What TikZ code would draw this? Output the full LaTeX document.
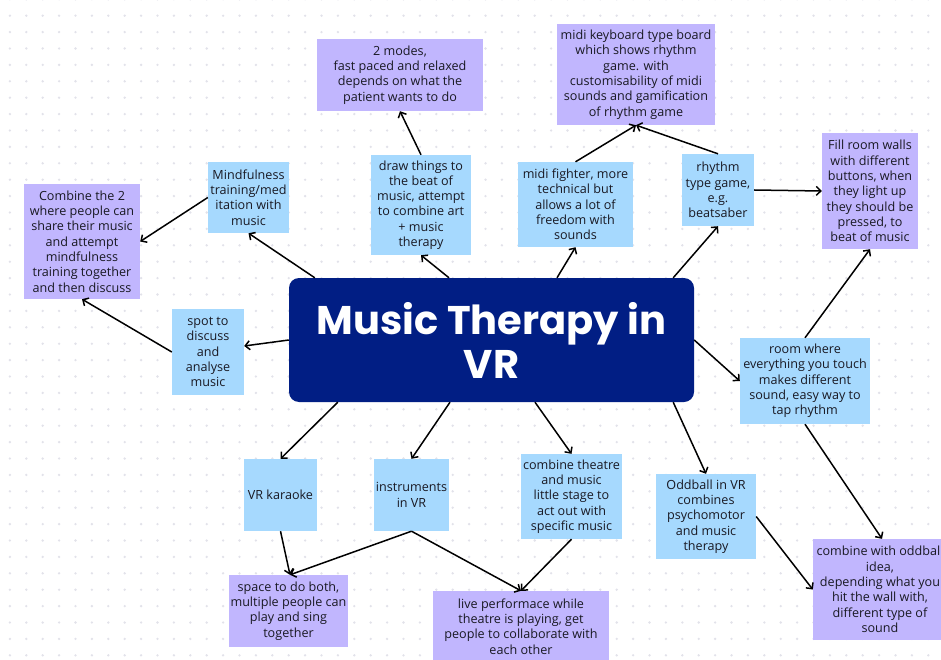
\documentclass[tikz,border=0pt]{standalone}
\usepackage{fontspec}
\setmainfont{Open Sans}
\newfontfamily\titlefont{Poppins}
\usetikzlibrary{arrows.meta}
\definecolor{navy}{RGB}{1,30,132}
\definecolor{lblue}{RGB}{166,217,254}
\definecolor{lpurple}{RGB}{193,182,254}
\definecolor{txt}{RGB}{25,25,35}
\definecolor{dotc}{RGB}{226,226,234}
\begin{document}
\begin{tikzpicture}[x=1pt,y=-1pt,
  idea/.style={rectangle, inner sep=0pt, align=center, font=\fontsize{12.6}{15.3}\selectfont, text=txt},
  bluebox/.style={idea, fill=lblue},
  purplebox/.style={idea, fill=lpurple},
  link/.style={draw=black, line width=1.5pt, -{Straight Barb[length=4.5pt,width=9pt]}}]
\useasboundingbox (0,0) rectangle (941,660);
\clip (0,0) rectangle (941,660);
\fill[white] (0,0) rectangle (941,660);
\foreach \i in {0,...,57} {
  \foreach \j in {0,...,40} {
    \fill[dotc] (9.9+16.4*\i, -0.7+16.4*\j) circle (1.3);
  }
}
% central
\node[rectangle, rounded corners=10pt, fill=navy, minimum width=405pt, minimum height=124pt, inner sep=0pt,
  align=center, text=white, font=\titlefont\bfseries\fontsize{40}{44}\selectfont] (central) at (491.5,340) {Music Therapy in\\VR};
% left
\node[purplebox, minimum width=116pt, minimum height=115pt] (comb2) at (82,241.5) {Combine the 2\\where people can\\share their music\\and attempt\\mindfulness\\training together\\and then discuss};
\node[bluebox, minimum width=81pt, minimum height=71pt] (mind) at (248.5,197.5) {Mindfulness\\training/med\\itation with\\music};
\node[bluebox, minimum width=72pt, minimum height=86pt] (spot) at (208,352) {spot to\\discuss\\and\\analyse\\music};
% top
\node[purplebox, minimum width=166pt, minimum height=72pt] (modes) at (400,75) {2 modes,\\fast paced and relaxed\\depends on what the\\patient wants to do};
\node[bluebox, minimum width=100pt, minimum height=100pt] (draw) at (421,205) {draw things to\\the beat of\\music, attempt\\to combine art\\+ music\\therapy};
\node[purplebox, minimum width=158pt, minimum height=101pt] (keyb) at (636,74.5) {midi keyboard type board\\which shows rhythm\\game. with\\customisability of midi\\sounds and gamification\\of rhythm game};
\node[bluebox, minimum width=115pt, minimum height=85pt] (fighter) at (575.5,204.5) {midi fighter, more\\technical but\\allows a lot of\\freedom with\\sounds};
\node[bluebox, minimum width=72pt, minimum height=72pt] (rhythm) at (718,190) {rhythm\\type game,\\e.g.\\beatsaber};
\node[purplebox, minimum width=96pt, minimum height=116pt] (fill) at (870,191) {Fill room walls\\with different\\buttons, when\\they light up\\they should be\\pressed, to\\beat of music};
% right
\node[bluebox, minimum width=130pt, minimum height=86pt] (room) at (805,381) {room where\\everything you touch\\makes different\\sound, easy way to\\tap rhythm};
\node[bluebox, minimum width=100pt, minimum height=85pt] (oddball) at (706,516.5) {Oddball in VR\\combines\\psychomotor\\and music\\therapy};
\node[purplebox, minimum width=134pt, minimum height=101pt] (combodd) at (880,589.5) {combine with oddball\\idea,\\depending what you\\hit the wall with,\\different type of\\sound};
% bottom
\node[bluebox, minimum width=73pt, minimum height=72pt] (karaoke) at (280.5,495) {VR karaoke};
\node[bluebox, minimum width=75pt, minimum height=72pt] (instr) at (411.5,495) {instruments\\in VR};
\node[bluebox, minimum width=101pt, minimum height=85pt] (theatre) at (571.5,496.5) {combine theatre\\and music\\little stage to\\act out with\\specific music};
\node[purplebox, minimum width=119pt, minimum height=72pt] (space) at (288.5,611) {space to do both,\\multiple people can\\play and sing\\together};
\node[purplebox, minimum width=176pt, minimum height=71pt] (live) at (521,626.5) {live performace while\\theatre is playing, get\\people to collaborate with\\each other};
% connectors
\draw[link] ([xshift=26pt]central.north west) -- (mind.south);
\draw[link] (mind.west) -- (comb2.east);
\draw[link] (spot.west) -- (comb2.south);
\draw[link] (central.west) -- ([yshift=6pt]spot.east);
\draw[link] ([xshift=-42.5pt]central.north) -- (draw.south);
\draw[link] (draw.north) -- (modes.south);
\draw[link] ([xshift=65.5pt]central.north) -- (fighter.south);
\draw[link] (fighter.north) -- (keyb.south);
\draw[link] (rhythm.north) -- (keyb.south);
\draw[link] ([xshift=-21pt]central.north east) -- (rhythm.south);
\draw[link] (rhythm.east) -- (fill.west);
\draw[link] (room.north) -- (fill.south);
\draw[link] (central.east) -- (room.west);
\draw[link] (room.south) -- ([xshift=2pt]combodd.north);
\draw[link] ([xshift=-21pt]central.south east) -- (oddball.north);
\draw[link] (oddball.east) -- (combodd.west);
\draw[link] ([xshift=49pt]central.south west) -- (karaoke.north);
\draw[link] ([xshift=-41.5pt]central.south) -- (instr.north);
\draw[link] ([xshift=43.5pt]central.south) -- (theatre.north);
\draw[link] (karaoke.south) -- ([xshift=1.5pt]space.north);
\draw[link] (instr.south) -- ([xshift=1.5pt]space.north);
\draw[link] (instr.south) -- (live.north);
\draw[link] (theatre.south) -- (live.north);
\end{tikzpicture}
\end{document}
